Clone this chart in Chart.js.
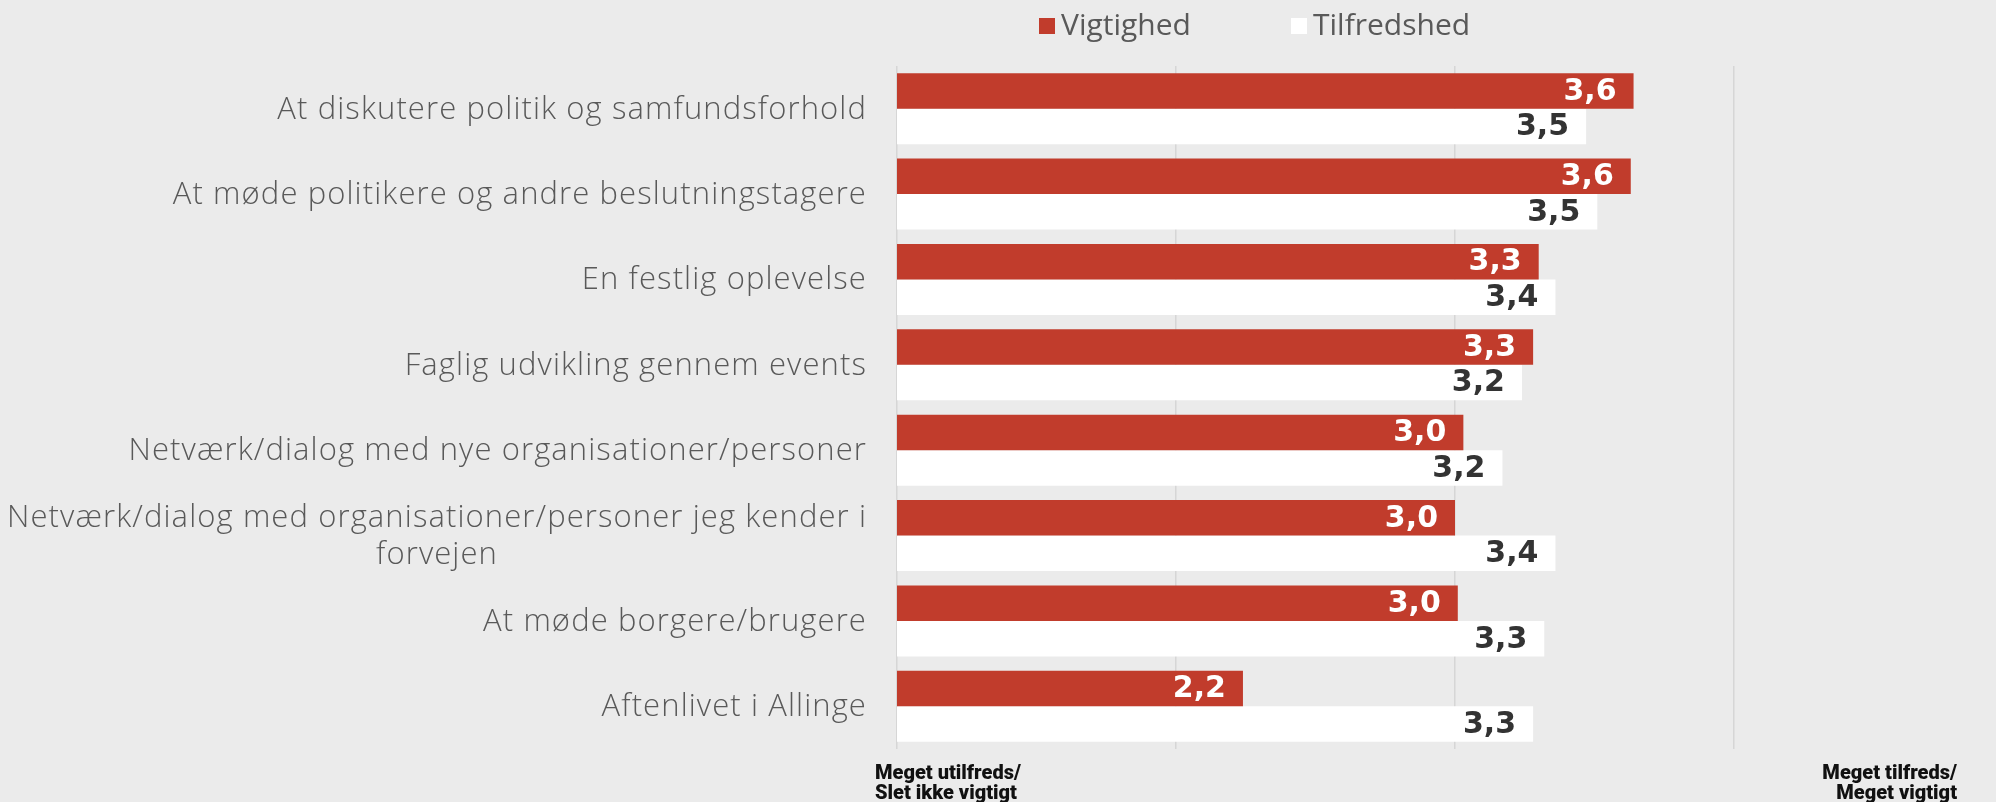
<!DOCTYPE html>
<html>
<head>
<meta charset="utf-8">
<script src="https://cdn.jsdelivr.net/npm/chart.js@4"></script>
<style>
  html, body { margin: 0; padding: 0; background: #ebebeb; }
  #wrap { width: 1996px; height: 802px; position: relative; }
</style>
</head>
<body>
<div id="wrap"><canvas id="c"></canvas></div>
<script>
const categories = [
  'At diskutere politik og samfundsforhold',
  'At møde politikere og andre beslutningstagere',
  'En festlig oplevelse',
  'Faglig udvikling gennem events',
  'Netværk/dialog med nye organisationer/personer',
  ['Netværk/dialog med organisationer/personer jeg kender i', 'forvejen'],
  'At møde borgere/brugere',
  'Aftenlivet i Allinge'
];
const seriesNames = ['Vigtighed', 'Tilfredshed'];
const vigtighed = [3.64, 3.63, 3.30, 3.28, 3.03, 3.00, 3.01, 2.24];
const tilfredshed = [3.47, 3.51, 3.36, 3.24, 3.17, 3.36, 3.32, 3.28];
const xTickValues = [1, 2, 3, 4];
const axisEndLabels = [['Meget utilfreds/', 'Slet ikke vigtigt'], ['Meget tilfreds/', 'Meget vigtigt']];

const RED = '#c13c2c';
const WHITE = '#ffffff';
const LABEL_GREY = '#595959';

const labelsPlugin = {
  id: 'customText',
  afterDatasetsDraw(chart) {
    const ctx = chart.ctx;
    const area = chart.chartArea;
    const yScale = chart.scales.y;
    const xScale = chart.scales.x;
    ctx.save();
    // value labels
    ctx.font = 'bold 30px "DejaVu Sans"';
    ctx.textAlign = 'right';
    ctx.textBaseline = 'middle';
    chart.data.datasets.forEach((ds, di) => {
      const meta = chart.getDatasetMeta(di);
      ctx.fillStyle = di === 0 ? '#ffffff' : '#333333';
      meta.data.forEach((el, i) => {
        const txt = ds.data[i].toFixed(1).replace('.', ',');
        ctx.fillText(txt, el.x - 17, el.y + 1);
      });
    });
    // category labels
    ctx.font = '300 31px "Open Sans"';
    if ('letterSpacing' in ctx) ctx.letterSpacing = '1.1px';
    ctx.fillStyle = LABEL_GREY;
    ctx.textBaseline = 'middle';
    const rightEdge = area.left - 30;
    chart.data.labels.forEach((lab, i) => {
      const lines = Array.isArray(lab) ? lab : [lab];
      const yc = yScale.getPixelForTick(i);
      const widths = lines.map(l => ctx.measureText(l).width);
      const maxW = Math.max(...widths);
      const cx = rightEdge - maxW / 2;
      const lh = 37;
      ctx.textAlign = 'center';
      lines.forEach((l, li) => {
        const y = yc + (li - (lines.length - 1) / 2) * lh + 1;
        ctx.fillText(l, cx, y);
      });
    });
    if ('letterSpacing' in ctx) ctx.letterSpacing = '0px';
    // legend
    ctx.font = '400 30px "Open Sans"';
    ctx.textAlign = 'left';
    ctx.textBaseline = 'alphabetic';
    const legendItems = [
      {x: area.left + 142, label: chart.data.datasets[0].label, color: chart.data.datasets[0].backgroundColor},
      {x: area.left + 394, label: chart.data.datasets[1].label, color: chart.data.datasets[1].backgroundColor}
    ];
    legendItems.forEach(it => {
      ctx.fillStyle = it.color;
      ctx.fillRect(it.x, 18, 16, 16);
      ctx.fillStyle = LABEL_GREY;
      ctx.fillText(it.label, it.x + 22, 35);
    });
    // axis end labels
    ctx.font = '900 20px Roboto';
    ctx.fillStyle = '#111111';
    const x0 = xScale.getPixelForValue(xTickValues[0]) - 22;
    const x1 = chart.width - 39;
    ctx.textAlign = 'left';
    axisEndLabels[0].forEach((l, li) => ctx.fillText(l, x0, 779 + li * 20));
    ctx.textAlign = 'right';
    axisEndLabels[1].forEach((l, li) => ctx.fillText(l, x1, 779 + li * 20));
    ctx.restore();
  }
};

new Chart(document.getElementById('c'), {
  type: 'bar',
  data: {
    labels: categories,
    datasets: [
      {label: seriesNames[0], data: vigtighed, backgroundColor: RED, borderWidth: 0, categoryPercentage: 0.833, barPercentage: 1},
      {label: seriesNames[1], data: tilfredshed, backgroundColor: WHITE, borderWidth: 0, categoryPercentage: 0.833, barPercentage: 1}
    ]
  },
  options: {
    indexAxis: 'y',
    responsive: true,
    maintainAspectRatio: false,
    animation: false,
    layout: { padding: { left: 897, right: 262, top: 66, bottom: 53 } },
    plugins: { legend: { display: false }, tooltip: { enabled: false } },
    scales: {
      x: {
        min: xTickValues[0],
        max: xTickValues[xTickValues.length - 1],
        afterBuildTicks(axis) { axis.ticks = xTickValues.map(v => ({value: v})); },
        ticks: { display: false },
        grid: { color: '#d6d6d6', lineWidth: 1.5, drawTicks: false },
        border: { display: false }
      },
      y: {
        display: false,
        grid: { display: false }
      }
    }
  },
  plugins: [labelsPlugin]
});
</script>
</body>
</html>
